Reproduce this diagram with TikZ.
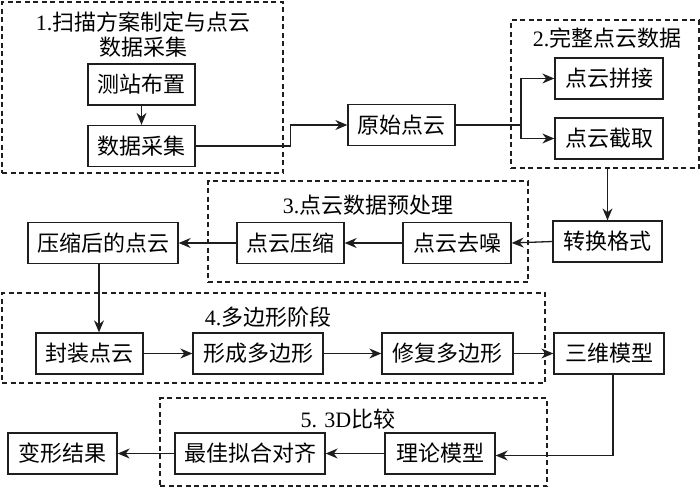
\documentclass[tikz,border=0pt]{standalone}
\usepackage{fontspec}
\setmainfont{Noto Sans CJK SC}
\newfontfamily\lat{Liberation Serif}
\usetikzlibrary{arrows.meta}
\definecolor{lc}{RGB}{30,30,30}
\begin{document}
\begin{tikzpicture}[x=1pt,y=-1pt,
  every node/.style={font=\fontsize{22}{25}\selectfont, text=black},
  box/.style={draw=lc, line width=1.3pt, minimum height=41pt, inner sep=0pt, anchor=center},
  grp/.style={draw=lc, line width=1.2pt, dash pattern=on 5pt off 3.5pt, inner sep=0pt},
  ttl/.style={inner sep=0pt, align=center},
  arr/.style={draw=lc, line width=1.3pt, -{Stealth[length=12pt,width=10pt]}},
  ln/.style={draw=lc, line width=1.3pt}]
\useasboundingbox (0,0) rectangle (700,488);
% groups
\node[grp, minimum width=281pt, minimum height=171pt] (g1) at (142.5,87.5) {};
\node[grp, minimum width=188pt, minimum height=148pt] (g2) at (605,94) {};
\node[grp, minimum width=320pt, minimum height=101pt] (g3) at (368,231.5) {};
\node[grp, minimum width=543pt, minimum height=90pt] (g4) at (273.5,338) {};
\node[grp, minimum width=387pt, minimum height=88pt] (g5) at (353.5,442) {};
% titles
\node[ttl] (t1) at (143,34.5) {{\lat 1.}扫描方案制定与点云\\数据采集};
\node[ttl] (t2) at (607,38) {{\lat 2.}完整点云数据};
\node[ttl] (t3) at (368,205) {{\lat 3.}点云数据预处理};
\node[ttl] (t4) at (268,317) {{\lat 4.}多边形阶段};
\node[ttl] (t5) at (348,419) {{\lat 5. 3D}比较};
% boxes
\node[box, minimum width=107pt] (cz) at (141.5,84.5) {测站布置};
\node[box, minimum width=107pt] (sj) at (141.5,146) {数据采集};
\node[box, minimum width=107pt] (ys) at (401.5,125) {原始点云};
\node[box, minimum width=108pt] (pj) at (609,78.5) {点云拼接};
\node[box, minimum width=108pt] (jq) at (609,138.5) {点云截取};
\node[box, minimum width=109pt] (zh) at (607.5,241.5) {转换格式};
\node[box, minimum width=108pt] (qz) at (457,243) {点云去噪};
\node[box, minimum width=107pt] (ys2) at (290.5,243) {点云压缩};
\node[box, minimum width=150pt] (hd) at (103,243) {压缩后的点云};
\node[box, minimum width=107pt] (fz) at (89.5,353.5) {封装点云};
\node[box, minimum width=130pt] (xc) at (258,353.5) {形成多边形};
\node[box, minimum width=131pt] (xf) at (447.5,353.5) {修复多边形};
\node[box, minimum width=110pt] (sw) at (609,353.5) {三维模型};
\node[box, minimum width=110pt] (ll) at (440,453.5) {理论模型};
\node[box, minimum width=150pt] (zj) at (250,453.5) {最佳拟合对齐};
\node[box, minimum width=109pt] (bx) at (62.5,453.5) {变形结果};
% connectors
\draw[arr] (cz.south) -- (sj.north);
\draw[arr] (sj.east) -- ++(95,0) |- (ys.west);
\draw[ln] (ys.east) -- (521,125) coordinate (br);
\draw[arr] (br) |- (pj.west);
\draw[arr] (br) |- (jq.west);
\draw[arr] (g2.south -| zh.north) -- (zh.north);
\draw[arr] (zh.west) -- (qz.east);
\draw[arr] (qz.west) -- (ys2.east);
\draw[arr] (ys2.west) -- (hd.east);
\draw[arr] ([xshift=-4pt]hd.south) -- ([xshift=-4pt]hd.south |- fz.north);
\draw[arr] (fz.east) -- (xc.west);
\draw[arr] (xc.east) -- (xf.west);
\draw[arr] (xf.east) -- (sw.west);
\draw[arr] ([xshift=4pt]sw.south) |- ([yshift=-2pt]ll.east);
\draw[arr] (ll.west) -- (zj.east);
\draw[arr] (zj.west) -- (bx.east);
\end{tikzpicture}
\end{document}
